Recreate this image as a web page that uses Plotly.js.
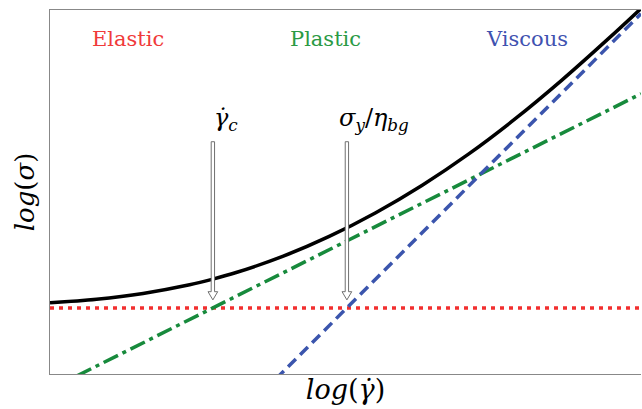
<!DOCTYPE html>
<html>
<head>
<meta charset="utf-8">
<script src="https://cdn.plot.ly/plotly-3.0.1.min.js"></script>
<style>html,body{margin:0;padding:0;background:#fff;}#chart{width:642px;height:409px;}</style>
</head>
<body>
<div id="chart"></div>
<script>
// axis extents in log units (no ticks shown)
const xRange = [0, 6.35];
const yRange = [0, 3.91];

// regime asymptotes (log-log)
const elasticX = [0, 6.35];
const elasticY = [0.71, 0.71];
const plasticX = [0, 6.35];
const plasticY = [-0.165, 3.01];
const viscousX = [2.3, 6.35];
const viscousY = [-0.18, 3.87];

// total flow curve
const totalX = [0, 0.5, 1.0, 1.5, 1.75, 2.0, 2.5, 3.0, 3.5, 4.0, 4.5, 5.0, 5.5, 6.0, 6.35];
const totalY = [0.765, 0.803, 0.865, 0.958, 1.019, 1.090, 1.263, 1.478, 1.733, 2.028, 2.364, 2.742, 3.157, 3.602, 3.926];

// marked crossover rates and their labels
const markerX = [1.75, 3.19];
const markerLabels = ['<i>γ̇<sub>c</sub></i>', '<i>σ<sub>y</sub></i>/<i>η<sub>bg</sub></i>'];
const markerLabelX = [1.89, 3.48];
const arrowTop = 2.495, arrowTip = 0.796;

// regime labels
const regimeNames = ['Elastic', 'Plastic', 'Viscous'];
const regimeX = [0.84, 2.96, 5.13];
const regimeColors = ['#f03a3a', '#2a9a44', '#3f52b0'];

const traces = [
  {x: elasticX, y: elasticY, mode: 'lines', line: {color: '#f22f2f', width: 3.5, dash: '4px,5px'}, hoverinfo: 'skip'},
  {x: plasticX, y: plasticY, mode: 'lines', line: {color: '#178a3c', width: 3.5, dash: '16px,5px,4px,5px'}, hoverinfo: 'skip'},
  {x: viscousX, y: viscousY, mode: 'lines', line: {color: '#3b55ad', width: 3.5, dash: '11px,6px'}, hoverinfo: 'skip'},
  {x: totalX, y: totalY, mode: 'lines', line: {color: '#000000', width: 3.5, shape: 'spline'}, hoverinfo: 'skip'}
];

const sw = 0.018, hw = 0.052, hl = 0.088;
const shapes = markerX.map(x0 => ({
  type: 'path', xref: 'x', yref: 'y', layer: 'above',
  path: `M ${x0-sw},${arrowTop} L ${x0+sw},${arrowTop} L ${x0+sw},${arrowTip+hl} L ${x0+hw},${arrowTip+hl} L ${x0},${arrowTip} L ${x0-hw},${arrowTip+hl} L ${x0-sw},${arrowTip+hl} Z`,
  fillcolor: '#ffffff', line: {color: '#707070', width: 1}
}));

const serif = "'DejaVu Serif', serif";
const annotations = [];
regimeNames.forEach((t, i) => annotations.push({
  x: regimeX[i], y: 3.60, xref: 'x', yref: 'y', text: t, showarrow: false,
  font: {family: serif, size: 21, color: regimeColors[i]}
}));
markerLabels.forEach((t, i) => annotations.push({
  x: markerLabelX[i], y: 2.73, xref: 'x', yref: 'y', text: t, showarrow: false,
  font: {family: serif, size: 24, color: '#000'}
}));

const layout = {
  width: 642, height: 409,
  margin: {l: 50, r: 1, t: 10, b: 35},
  paper_bgcolor: '#fff', plot_bgcolor: '#fff',
  showlegend: false,
  xaxis: {range: xRange, showgrid: false, zeroline: false, showticklabels: false, ticks: '',
    showline: true, mirror: true, linecolor: '#888', linewidth: 1,
    title: {text: '<i>log</i>(<i>γ̇</i>)', font: {family: serif, size: 27, color: '#000'}, standoff: 6}},
  yaxis: {range: yRange, showgrid: false, zeroline: false, showticklabels: false, ticks: '',
    showline: true, linecolor: '#888', linewidth: 1,
    title: {text: '<i>log</i>(<i>σ</i>)', font: {family: serif, size: 26, color: '#000'}, standoff: 6}},
  shapes: shapes,
  annotations: annotations
};

Plotly.newPlot('chart', traces, layout, {staticPlot: true, displayModeBar: false});
</script>
</body>
</html>
